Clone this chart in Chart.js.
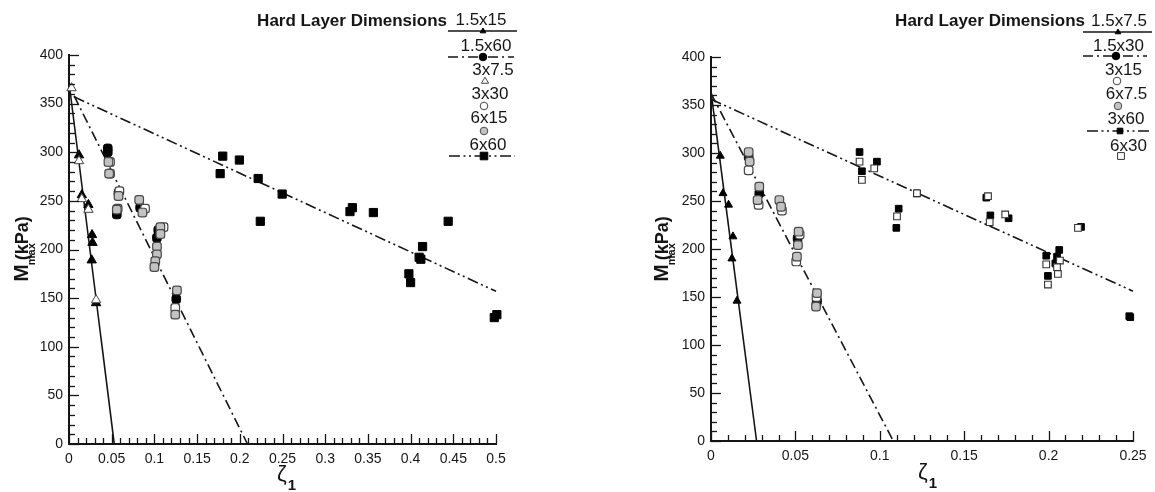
<!DOCTYPE html>
<html><head><meta charset="utf-8">
<script src="https://cdn.jsdelivr.net/npm/chart.js@4.4.1/dist/chart.umd.min.js"></script>
<style>
html,body{margin:0;padding:0;background:#fff;}
#wrap{position:relative;width:1155px;height:492px;overflow:hidden;}
canvas{position:absolute;top:0;}
</style></head><body>
<div id="wrap">
<canvas id="left" width="577" height="492" style="left:0"></canvas>
<canvas id="right" width="578" height="492" style="left:577px"></canvas>
</div>
<script>
// ---------- tick labels ----------
const yTicks = [0, 50, 100, 150, 200, 250, 300, 350, 400];
const leftXTicks = [0, 0.05, 0.1, 0.15, 0.2, 0.25, 0.3, 0.35, 0.4, 0.45, 0.5];
const leftXLabels = ['0', '0.05', '0.1', '0.15', '0.2', '0.25', '0.3', '0.35', '0.4', '0.45', '0.5'];
const rightXTicks = [0, 0.05, 0.1, 0.15, 0.2, 0.25];
const rightXLabels = ['0', '0.05', '0.1', '0.15', '0.2', '0.25'];

// ---------- left panel series [zeta1, Mmax] ----------
const L_1p5x15 = [[0.0117,297],[0.015,256],[0.0227,246],[0.027,215],[0.0275,207],[0.0266,189],[0.0317,145]];
const L_1p5x60 = [[0.0454,304],[0.0454,300],[0.0579,258],[0.056,236],[0.0833,243],[0.1029,212],[0.1045,220],[0.1256,149]];
const L_3x7p5  = [[0.003,366],[0.0117,291],[0.015,252],[0.0227,241],[0.0317,148]];
const L_3x30   = [[0.048,290],[0.048,278],[0.059,260],[0.057,242],[0.089,242],[0.1107,223],[0.1244,140]];
const L_6x15   = [[0.0462,290],[0.047,278],[0.058,255],[0.056,241],[0.0822,251],[0.086,238],[0.107,223],[0.107,216],[0.103,203],[0.103,195],[0.101,188],[0.1,182],[0.1264,158],[0.1244,133]];
const L_6x60   = [[0.180,296],[0.1995,292],[0.177,278],[0.2215,273],[0.2496,257],[0.224,229],[0.3318,243],[0.329,239],[0.3564,238],[0.444,229],[0.414,203],[0.412,190],[0.410,192],[0.398,175],[0.400,166],[0.498,130],[0.501,133]];
const L_fitSolid = [[0,372],[0.053,0]];
const L_fitDashDot = [[0.006,358],[0.209,0]];
const L_fitDashDotDot = [[0.006,357],[0.5,157]];

// ---------- right panel series ----------
const R_1p5x7p5 = [[0.0055,297],[0.0071,258],[0.0104,246],[0.013,213],[0.0124,190],[0.0154,146]];
const R_1p5x30  = [[0.0223,296],[0.0286,258],[0.0513,211],[0.0628,146],[0.0625,143]];
const R_3x15    = [[0.0223,282],[0.0282,246],[0.042,240],[0.0505,187],[0.0525,215],[0.0625,150]];
const R_6x7p5   = [[0.0223,301],[0.0229,291],[0.0286,265],[0.0276,251],[0.0405,251],[0.0415,244],[0.0519,218],[0.0515,204],[0.0509,192],[0.0628,154],[0.0622,140]];
const R_3x60    = [[0.088,301],[0.0894,281],[0.0983,291],[0.122,258],[0.1112,242],[0.1098,222],[0.1631,253.5],[0.1655,235],[0.1763,232],[0.2192,223],[0.1986,193],[0.1996,172],[0.2063,199],[0.205,192],[0.204,185],[0.2484,129],[0.2478,130]];
const R_6x30    = [[0.088,291],[0.0894,272],[0.0967,284],[0.122,258],[0.1102,234],[0.1641,255],[0.1651,228],[0.1743,236],[0.2174,222],[0.1986,184],[0.1996,163],[0.2067,188],[0.205,181],[0.2055,174]];
const R_fitSolid = [[0,364],[0.027,0]];
const R_fitDashDot = [[0,362],[0.108,0]];
const R_fitDashDotDot = [[0,356],[0.25,156]];

const FONT = '"Liberation Sans", Arial, Helvetica, sans-serif';
const INK = '#151515';
const DASH_DOT = [10,4,2,4];
const DASH_DOT_DOT = [11,3.5,2,3.5,2,3.5];

const pts = a => a.map(p => ({x:p[0], y:p[1]}));

const STYLE = {
  triF:  {pointStyle:'triangle', bg:'#000', bd:'#000', bw:1},
  triO:  {pointStyle:'triangle', bg:'#fff', bd:'#444', bw:1},
  circF: {pointStyle:'rectRounded', bg:'#000', bd:'#000', bw:1},
  circO: {pointStyle:'rectRounded', bg:'#fff', bd:'#444', bw:1.2},
  circG: {pointStyle:'rectRounded', bg:'#c2c2c2', bd:'#4a4a4a', bw:1.2},
  sqF:   {pointStyle:'rect', bg:'#000', bd:'#000', bw:1},
  sqO:   {pointStyle:'rect', bg:'#fff', bd:'#333', bw:1.1},
};

function scat(label, arr, st, r){
  const s = STYLE[st];
  return {type:'scatter', label, data:pts(arr), pointStyle:s.pointStyle, pointRadius:r,
    pointBackgroundColor:s.bg, pointBorderColor:s.bd, pointBorderWidth:s.bw, showLine:false, clip:false, order:1};
}
function fit(arr, dash){
  return {type:'line', label:'', data:pts(arr), borderColor:INK, borderWidth:1.6, borderDash:dash,
    pointRadius:0, showLine:true, fill:false, tension:0, clip:false, order:10};
}

function drawMarker(ctx, kind, x, y, sz){
  const s = STYLE[kind];
  ctx.save();
  ctx.fillStyle = s.bg; ctx.strokeStyle = s.bd; ctx.lineWidth = 1;
  ctx.setLineDash([]);
  ctx.beginPath();
  if (kind.startsWith('tri')) {
    ctx.moveTo(x, y - sz); ctx.lineTo(x + sz*0.95, y + sz*0.6); ctx.lineTo(x - sz*0.95, y + sz*0.6); ctx.closePath();
  } else if (kind.startsWith('circ')) {
    ctx.arc(x, y, sz, 0, Math.PI*2);
  } else {
    ctx.rect(x - sz, y - sz, 2*sz, 2*sz);
  }
  ctx.fill(); ctx.stroke();
  ctx.restore();
}

function decorPlugin(cfg){
  return {
    id: 'decor',
    afterDraw(chart){
      const ctx = chart.ctx, xs = chart.scales.x, ys = chart.scales.y, a = chart.chartArea;
      ctx.save();
      ctx.strokeStyle = INK; ctx.lineWidth = 1.3; ctx.setLineDash([]);
      const yMax = yTicks[yTicks.length-1];
      for (let i = 0; i <= yMax/10; i++){
        const v = i*10;
        const p = Math.round(ys.getPixelForValue(v)) + 0.5;
        const len = (i % 5 === 0) ? 10 : 6;
        ctx.beginPath(); ctx.moveTo(a.left, p); ctx.lineTo(a.left + len, p); ctx.stroke();
      }
      const xMax = cfg.xTicks[cfg.xTicks.length-1];
      const nMinor = Math.round(xMax/0.01);
      for (let i = 0; i <= nMinor; i++){
        const v = i*0.01;
        const p = Math.round(xs.getPixelForValue(v)) + 0.5;
        const len = (i % 5 === 0) ? 10 : 6;
        ctx.beginPath(); ctx.moveTo(p, a.bottom); ctx.lineTo(p, a.bottom - len); ctx.stroke();
      }
      ctx.restore();

      // y title  M_max (kPa)
      ctx.save();
      ctx.fillStyle = INK;
      ctx.translate(cfg.yTitleX, cfg.yTitleY);
      ctx.rotate(-Math.PI/2);
      ctx.textBaseline = 'alphabetic';
      ctx.font = 'bold 21px ' + FONT; const wM = ctx.measureText('M').width;
      ctx.font = 'bold 18px ' + FONT; const wK = ctx.measureText('(kPa)').width;
      const total = wM + 4 + wK;
      let x0 = -total/2;
      ctx.font = 'bold 21px ' + FONT; ctx.fillText('M', x0, 0);
      ctx.font = 'bold 11px ' + FONT; ctx.fillText('max', x0 + wM - 1, 7);
      ctx.font = 'bold 18px ' + FONT; ctx.fillText('(kPa)', x0 + wM + 4, 0);
      ctx.restore();

      // x title  ζ1
      ctx.save();
      ctx.fillStyle = INK;
      ctx.font = '22px ' + FONT;
      ctx.fillText('ζ', cfg.xTitleX, cfg.xTitleY);
      const wz = ctx.measureText('ζ').width;
      ctx.font = 'bold 15px ' + FONT;
      ctx.fillText('1', cfg.xTitleX + wz + 1, cfg.xTitleY + 9);
      ctx.restore();

      // legend
      const L = cfg.legend;
      ctx.save();
      ctx.fillStyle = INK;
      ctx.font = 'bold 17px ' + FONT;
      ctx.textAlign = 'right';
      ctx.fillText('Hard Layer Dimensions', L.titleRight, L.titleBase);
      ctx.font = '17px ' + FONT;
      ctx.textAlign = 'center';
      L.entries.forEach(e => {
        ctx.fillStyle = INK;
        ctx.fillText(e.t, e.tx, e.tb);
        if (e.line){
          ctx.save();
          ctx.strokeStyle = INK; ctx.lineWidth = 1.6;
          ctx.setLineDash(e.line === 'solid' ? [] : (e.line === 'dd' ? DASH_DOT : DASH_DOT_DOT));
          ctx.beginPath(); ctx.moveTo(e.x1, e.sy); ctx.lineTo(e.x2, e.sy); ctx.stroke();
          ctx.restore();
        }
        drawMarker(ctx, e.mk, e.mx, e.sy, e.ms);
      });
      ctx.restore();
    }
  };
}

function makeChart(id, datasets, xTicks, xLabels, layout, cfg){
  return new Chart(document.getElementById(id), {
    type: 'scatter',
    data: {datasets},
    options: {
      responsive: false, animation: false, devicePixelRatio: 1,
      layout: {padding: {left: 0, top: layout.top, right: layout.right, bottom: 0}},
      plugins: {legend: {display: false}, tooltip: {enabled: false}, title: {display: false}},
      scales: {
        x: {
          type: 'linear', min: 0, max: xTicks[xTicks.length-1],
          grid: {display: false, drawTicks: false},
          border: {display: true, color: INK, width: 2},
          afterBuildTicks: s => { s.ticks = xTicks.map(v => ({value: v})); },
          afterFit: s => { s.height = layout.xh; },
          ticks: {padding: 7, color: '#161616', font: {family: FONT, size: 14},
                  callback: (v) => { const i = xTicks.findIndex(t => Math.abs(t - v) < 1e-9); return i >= 0 ? xLabels[i] : ''; },
                  maxRotation: 0, autoSkip: false}
        },
        y: {
          type: 'linear', min: 0, max: yTicks[yTicks.length-1],
          grid: {display: false, drawTicks: false},
          border: {display: true, color: INK, width: 2},
          afterBuildTicks: s => { s.ticks = yTicks.map(v => ({value: v})); },
          afterFit: s => { s.width = layout.yw; },
          ticks: {padding: 6, color: '#161616', font: {family: FONT, size: 14}, autoSkip: false}
        }
      }
    },
    plugins: [decorPlugin(cfg)]
  });
}

makeChart('left', [
  fit(L_fitSolid, []), fit(L_fitDashDot, DASH_DOT), fit(L_fitDashDotDot, DASH_DOT_DOT),
  scat('6x60', L_6x60, 'sqF', 5.8),
  scat('6x15', L_6x15, 'circG', 5.0),
  scat('3x30', L_3x30, 'circO', 5.0),
  scat('1.5x60', L_1p5x60, 'circF', 5.0),
  scat('3x7.5', L_3x7p5, 'triO', 5.4),
  scat('1.5x15', L_1p5x15, 'triF', 5.4),
], leftXTicks, leftXLabels, {top: 55, right: 81, xh: 48, yw: 69}, {
  xTicks: leftXTicks, yTitleX: 28, yTitleY: 249, xTitleX: 277, xTitleY: 481,
  legend: {titleRight: 447, titleBase: 26, entries: [
    {t:'1.5x15', tx:481, tb:25, sy:31, line:'solid', x1:448, x2:517, mk:'triF', mx:483, ms:3},
    {t:'1.5x60', tx:486, tb:51, sy:57, line:'dd', x1:448, x2:514, mk:'circF', mx:483, ms:3.8},
    {t:'3x7.5', tx:493, tb:75, sy:81, mk:'triO', mx:485, ms:3.8},
    {t:'3x30', tx:490, tb:99, sy:106, mk:'circO', mx:484, ms:3.8},
    {t:'6x15', tx:489, tb:123, sy:131, mk:'circG', mx:484, ms:3.8},
    {t:'6x60', tx:488, tb:150, sy:156, line:'ddd', x1:449, x2:515, mk:'sqF', mx:484, ms:3.8},
  ]}
});

makeChart('right', [
  fit(R_fitSolid, []), fit(R_fitDashDot, DASH_DOT), fit(R_fitDashDotDot, DASH_DOT_DOT),
  scat('6x30', R_6x30, 'sqO', 4.7),
  scat('3x60', R_3x60, 'sqF', 4.7),
  scat('6x7.5', R_6x7p5, 'circG', 5.0),
  scat('3x15', R_3x15, 'circO', 5.0),
  scat('1.5x30', R_1p5x30, 'circF', 5.0),
  scat('1.5x7.5', R_1p5x7p5, 'triF', 4.6),
], rightXTicks, rightXLabels, {top: 57, right: 22, xh: 51, yw: 134}, {
  xTicks: rightXTicks, yTitleX: 91, yTitleY: 249, xTitleX: 341, xTitleY: 479,
  legend: {titleRight: 508, titleBase: 26, entries: [
    {t:'1.5x7.5', tx:542, tb:26, sy:32, line:'solid', x1:506, x2:575, mk:'triF', mx:541, ms:3},
    {t:'1.5x30', tx:541.5, tb:51, sy:56, line:'dd', x1:506, x2:570, mk:'circF', mx:539, ms:3.8},
    {t:'3x15', tx:546.5, tb:75, sy:81, mk:'circO', mx:540, ms:3.8},
    {t:'6x7.5', tx:549.5, tb:99, sy:106, mk:'circG', mx:541, ms:3.8},
    {t:'3x60', tx:549, tb:124, sy:131, line:'ddd', x1:510, x2:573, mk:'sqF', mx:543, ms:2.8},
    {t:'6x30', tx:551.5, tb:151, sy:156, mk:'sqO', mx:544, ms:3.4},
  ]}
});
</script>
</body></html>
